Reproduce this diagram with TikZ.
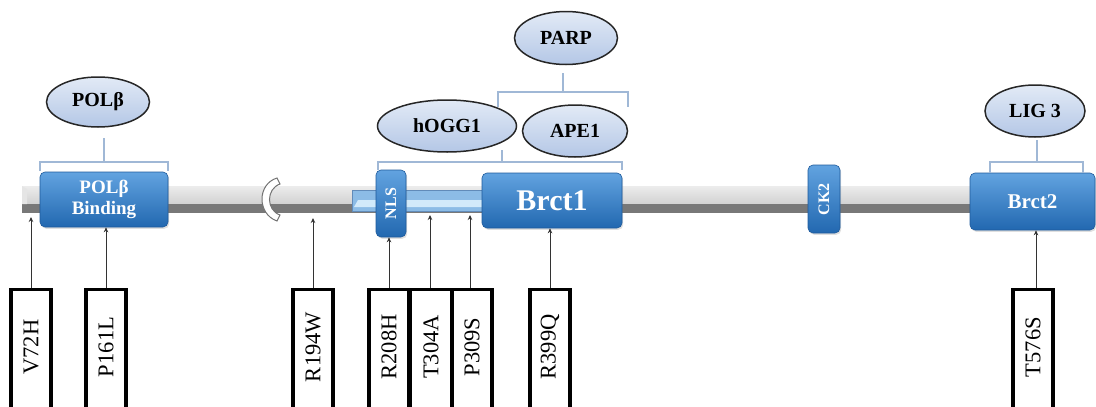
\documentclass[tikz,border=0pt]{standalone}
\usepackage{fontspec}
\setmainfont{Liberation Serif}
\usetikzlibrary{arrows.meta,shapes.geometric,shadows,calc}

\definecolor{boxtop}{RGB}{98,163,224}
\definecolor{boxbot}{RGB}{34,104,176}
\definecolor{boxedge}{RGB}{30,90,155}
\definecolor{elltop}{RGB}{226,234,246}
\definecolor{ellbot}{RGB}{180,199,230}
\definecolor{brackc}{RGB}{160,184,214}
\definecolor{barlt}{RGB}{236,236,236}
\definecolor{barlb}{RGB}{208,208,208}
\definecolor{bardk}{RGB}{120,120,120}
\definecolor{nlsbar}{RGB}{140,188,230}
\definecolor{nlsin}{RGB}{210,234,250}

\begin{document}
\begin{tikzpicture}[x=1pt,y=-1pt,
  dombox/.style={rounded corners=5pt, draw=boxedge, line width=0.6pt,
    top color=boxtop, bottom color=boxbot, text=white, inner sep=0pt,
    align=center, font=\bfseries,
    drop shadow={opacity=0.25, shadow xshift=1.2pt, shadow yshift=-1.8pt}},
  partner/.style={ellipse, draw=black!85, line width=1.5pt,
    top color=elltop, bottom color=ellbot, inner sep=0pt,
    font=\fontsize{20}{22}\selectfont\bfseries},
  bracket/.style={draw=brackc, line width=1.5pt},
  mutbox/.style={draw=black, line width=3.2pt, fill=white, inner sep=0pt,
    minimum width=40pt, minimum height=140pt, anchor=north},
  mutlabel/.style={rotate=90, font=\fontsize{22.5}{24}\selectfont, inner sep=0pt},
  conn/.style={draw=black!80, line width=0.9pt, -{Stealth[length=5pt,width=4.5pt]}}
]
\useasboundingbox (0,0) rectangle (1096,407);
\clip (0,0) rectangle (1096,407);

% protein backbone
\shade[top color=barlt, bottom color=barlb] (22,186) -- (1090,186) -- (1090,205) -- (22,205) -- cycle;
\fill[bardk] (22,204) rectangle (1090,213);
\fill[white!80!gray] (22,186) -- (27,189) -- (27,204) -- (22,204) -- cycle;

% crescent motif
\draw[fill=white, draw=black!55, line width=1pt]
  (277,178) .. controls (257,184) and (257,214) .. (277,221)
  -- (280,215) .. controls (266,210) and (266,189) .. (280,184) -- cycle;

% NLS linker segment
\draw[fill=nlsbar, draw=boxedge!70, line width=0.8pt] (352,190) rectangle (490,211);
\fill[nlsin] (358,200) -- (490,200) -- (490,207) -- (354,207) -- cycle;

% domains
\node[dombox, minimum width=128pt, minimum height=55pt,
  font=\fontsize{19}{21}\selectfont\bfseries] (polb) at (104,199.5) {POLβ\\Binding};
\node[dombox, minimum width=30pt, minimum height=67pt] (nls) at (391,203.5)
  {\rotatebox{90}{\fontsize{16}{16}\selectfont\bfseries NLS}};
\node[dombox, minimum width=140pt, minimum height=55pt,
  font=\fontsize{30}{31}\selectfont\bfseries] (brct1) at (552,200.5) {Brct1};
\node[dombox, minimum width=32pt, minimum height=68pt] (ck2) at (824,199)
  {\rotatebox{90}{\fontsize{16}{16}\selectfont\bfseries CK2}};
\node[dombox, minimum width=125pt, minimum height=57pt,
  font=\fontsize{21}{22}\selectfont\bfseries] (brct2) at (1032.5,201.5) {Brct2};

% interaction partners
\node[partner, minimum width=103pt, minimum height=50pt] (polbp) at (98,102) {POLβ};
\node[partner, minimum width=139pt, minimum height=52pt] (hogg) at (447,126) {hOGG1};
\node[partner, minimum width=105pt, minimum height=52pt] (ape) at (575,131) {APE1};
\node[partner, minimum width=103pt, minimum height=53pt] (parp) at (566,38) {PARP};
\node[partner, minimum width=100pt, minimum height=52pt] (lig) at (1035,111) {LIG 3};

% brackets linking partners to regions
\draw[bracket] (40,171) -- (40,162) -- (168,162) -- (168,171);
\draw[bracket] (104,162) -- (104,138);
\draw[bracket] (378,170) -- (378,162) -- (622,162) -- (622,170);
\draw[bracket] (502,162) -- (502,150);
\draw[bracket] (498,107) -- (498,92) -- (628,92) -- (628,107);
\draw[bracket] (563,92) -- (563,73);
\draw[bracket] (990,173) -- (990,162) -- (1083,162) -- (1083,173);
\draw[bracket] (1037,162) -- (1037,140);

% variant sites
\node[mutbox] (v72h)  at (31,288) {};
\node[mutbox] (p161l) at (106,288) {};
\node[mutbox] (r194w) at (313,288) {};
\node[mutbox] (r208h) at (389,288) {};
\node[mutbox, minimum width=42pt] (t304a) at (431,288) {};
\node[mutbox] (p309s) at (472,288) {};
\node[mutbox] (r399q) at (550,288) {};
\node[mutbox] (t576s) at (1033,288) {};

\foreach \m/\t in {v72h/V72H, p161l/P161L, r194w/R194W, r208h/R208H,
                   t304a/T304A, p309s/P309S, r399q/R399Q, t576s/T576S}
  \node[mutlabel] at ($(\m.north)+(0,59)$) {\t};

% target points on the backbone
\coordinate (s72)  at (31,217);
\coordinate (s194) at (313,218);
\coordinate (s304) at (430,215);
\coordinate (s309) at (470,215);

\draw[conn] (v72h.north) -- (s72);
\draw[conn] (p161l.north) -- (p161l.north |- polb.south);
\draw[conn] (r194w.north) -- (s194);
\draw[conn] (r208h.north) -- (r208h.north |- nls.south);
\draw[conn] ([xshift=-1pt]t304a.north) -- (s304);
\draw[conn] ([xshift=-2pt]p309s.north) -- (s309);
\draw[conn] (r399q.north) -- (r399q.north |- brct1.south);
\draw[conn] ([xshift=3pt]t576s.north) -- ([xshift=3pt]t576s.north |- brct2.south);
\end{tikzpicture}
\end{document}
